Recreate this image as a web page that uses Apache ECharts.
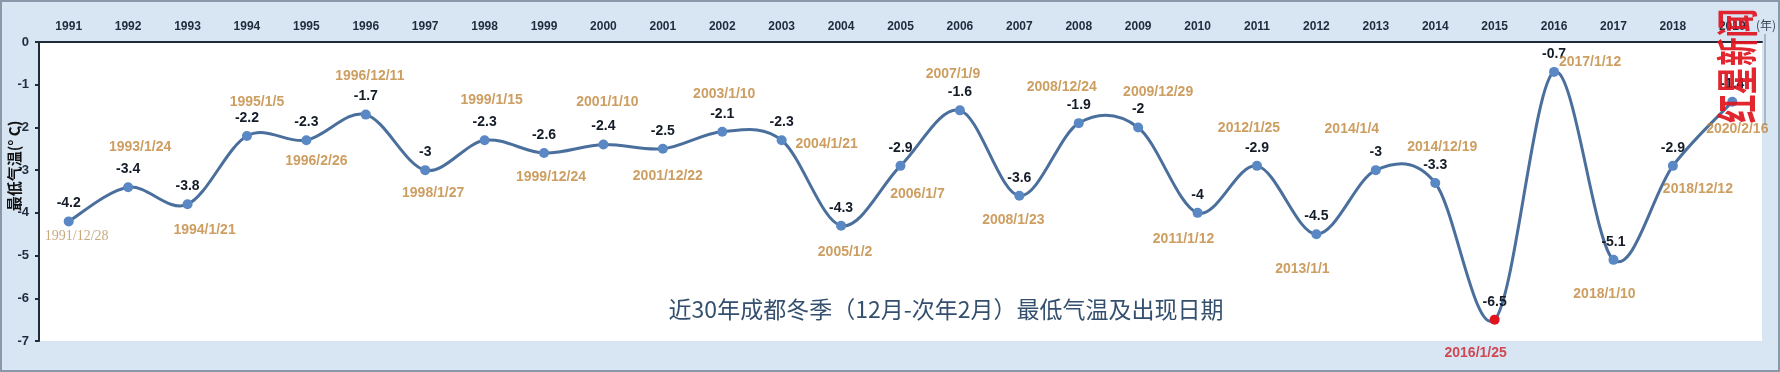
<!DOCTYPE html>
<html>
<head>
<meta charset="utf-8">
<script src="https://cdn.jsdelivr.net/npm/echarts@6/dist/echarts.min.js"></script>
<style>
html,body{margin:0;padding:0;background:#d8e6f3;}
#chart{width:1780px;height:372px;}
</style>
</head>
<body>
<div id="chart"></div>
<script>
// ---- data ----
const years = ['1991','1992','1993','1994','1995','1996','1997','1998','1999','2000','2001','2002','2003','2004','2005','2006','2007','2008','2009','2010','2011','2012','2013','2014','2015','2016','2017','2018','2019'];
const minTemps = [-4.2,-3.4,-3.8,-2.2,-2.3,-1.7,-3,-2.3,-2.6,-2.4,-2.5,-2.1,-2.3,-4.3,-2.9,-1.6,-3.6,-1.9,-2,-4,-2.9,-4.5,-3,-3.3,-6.5,-0.7,-5.1,-2.9,-1.4];
const minDates = ['1991/12/28','1993/1/24','1994/1/21','1995/1/5','1996/2/26','1996/12/11','1998/1/27','1999/1/15','1999/12/24','2001/1/10','2001/12/22','2003/1/10','2004/1/21','2005/1/2','2006/1/7','2007/1/9','2008/1/23','2008/12/24','2009/12/29','2011/1/12','2012/1/25','2013/1/1','2014/1/4','2014/12/19','2016/1/25','2017/1/12','2018/1/10','2018/12/12','2020/2/16'];
const yTicks = [0,-1,-2,-3,-4,-5,-6,-7];
const titleText = '近30年成都冬季（12月-次年2月）最低气温及出现日期';
const yName = '最低气温(° C)';
const xName = '(年)';

// ---- label layout (pixel offsets of date labels from their point) ----
const dateOffsets = [[8,15],[12,-40],[17,26],[10,-34],[10,21],[4,-38],[8,23],[7,-40],[7,24],[4,-42],[5,27],[2,-38],[45,4],[4,26],[17,28],[-7,-36],[-6,24],[-17,-36],[20,-35],[-14,26],[-8,-38],[-14,35],[-24,-41],[7,-36],[-19,33],[36,-10],[-9,34],[25,23],[5,27]];

const n = minTemps.length;
const minIdx = minTemps.indexOf(Math.min.apply(null, minTemps));

const chart = echarts.init(document.getElementById('chart'));

const lineData = minTemps.map((v, i) => i === minIdx
  ? {value: v, itemStyle: {color: '#e0141e'}}
  : v);

const dateData = minTemps.map((v, i) => {
  const item = {value: v, label: {}};
  if (i === 0) {
    item.label.fontFamily = 'Liberation Serif';
    item.label.fontWeight = 'normal';
    item.label.fontSize = 14;
    item.label.color = '#b8945e';
  }
  if (i === minIdx) item.label.color = '#cc1f2a';
  return item;
});

// Excel-style smoothed line (Catmull-Rom through the data points, mapped by the axes)
function renderSmooth(params, api) {
  const i = params.dataIndex;
  if (i >= n - 1) return null;
  const P = k => {
    const j = Math.max(0, Math.min(n - 1, k));
    return api.coord([years[j], minTemps[j]]);
  };
  const p0 = P(i - 1), p1 = P(i), p2 = P(i + 1), p3 = P(i + 2);
  return {
    type: 'bezierCurve',
    shape: {
      x1: p1[0], y1: p1[1],
      cpx1: p1[0] + (p2[0] - p0[0]) / 6, cpy1: p1[1] + (p2[1] - p0[1]) / 6,
      cpx2: p2[0] - (p3[0] - p1[0]) / 6, cpy2: p2[1] - (p3[1] - p1[1]) / 6,
      x2: p2[0], y2: p2[1]
    },
    style: {stroke: '#4a6f9c', lineWidth: 3, fill: 'none', lineCap: 'round'},
    silent: true
  };
}

chart.setOption({
  backgroundColor: '#d8e6f3',
  animation: false,
  grid: {left: 39, right: 18, top: 42, bottom: 31, show: true, backgroundColor: '#ffffff', borderWidth: 0},
  xAxis: {
    type: 'category',
    data: years,
    position: 'top',
    boundaryGap: true,
    axisLine: {lineStyle: {color: '#1e2c3c', width: 2}},
    axisTick: {inside: true, length: 4, lineStyle: {color: '#1e2c3c', width: 2}},
    axisLabel: {margin: 9, color: '#1e2c3c', fontFamily: 'Liberation Sans', fontWeight: 'bold', fontSize: 12},
    splitLine: {show: false}
  },
  yAxis: {
    type: 'value',
    min: -7, max: 0, interval: 1,
    axisLine: {show: true, lineStyle: {color: '#1e2c3c', width: 2}},
    axisTick: {show: true, length: 4, lineStyle: {color: '#1e2c3c', width: 2}},
    axisLabel: {margin: 10, color: '#1e2c3c', fontFamily: 'Liberation Sans', fontWeight: 'bold', fontSize: 13,
      formatter: v => yTicks.indexOf(v) >= 0 ? String(v) : ''},
    splitLine: {show: false}
  },
  series: [
    {
      type: 'custom',
      coordinateSystem: 'cartesian2d',
      data: minTemps.map((v, i) => [years[i], v]),
      renderItem: renderSmooth,
      z: 2
    },
    {
      type: 'line',
      data: lineData,
      symbol: 'circle',
      symbolSize: 10,
      lineStyle: {width: 0, opacity: 0},
      itemStyle: {color: '#5a88c4'},
      label: {
        show: true, position: 'inside', offset: [0, -18],
        color: '#141c28', fontFamily: 'Liberation Sans', fontWeight: 'bold', fontSize: 14,
        formatter: p => String(p.value)
      },
      z: 3
    },
    {
      type: 'scatter',
      data: dateData,
      symbolSize: 2,
      itemStyle: {color: 'rgba(0,0,0,0)'},
      label: {
        show: true, position: 'inside',
        color: '#c0863a', fontFamily: 'Liberation Sans', fontWeight: 'bold', fontSize: 14,
        formatter: p => minDates[p.dataIndex]
      },
      labelLayout: p => ({dx: dateOffsets[p.dataIndex][0], dy: dateOffsets[p.dataIndex][1], hideOverlap: false}),
      silent: true,
      z: 4
    }
  ],
  graphic: [
    {type: 'text', position: [946, 309], style: {text: titleText, textAlign: 'center', textVerticalAlign: 'middle', fontFamily: 'Noto Sans CJK SC', fontSize: 23, fill: '#34506e'}, z: 10},
    {type: 'text', position: [14, 166], rotation: Math.PI / 2, style: {text: yName, textAlign: 'center', textVerticalAlign: 'middle', fontFamily: 'Noto Sans CJK SC', fontWeight: 'bold', fontSize: 15, fill: '#111111'}, z: 10},
    {type: 'text', position: [1766, 25], style: {text: xName, textAlign: 'center', textVerticalAlign: 'middle', fontFamily: 'Noto Sans CJK SC', fontSize: 12, fill: '#3a4656'}, z: 10},
    {type: 'line', shape: {x1: 1765, y1: 34, x2: 1765, y2: 125}, style: {stroke: '#7a8696', lineWidth: 1}, z: 10},
    {type: 'text', position: [1737, 66], rotation: Math.PI / 2, scaleX: 0.68, style: {text: '红星新闻', textAlign: 'center', textVerticalAlign: 'middle', fontFamily: 'Noto Sans CJK SC', fontWeight: 'bold', fontSize: 42, fill: 'rgba(224,20,30,0.92)'}, z: 20},
    {type: 'rect', shape: {x: 1, y: 1, width: 1778, height: 370}, style: {fill: 'none', stroke: '#8a98a9', lineWidth: 2}, z: 30, silent: true}
  ]
});
</script>
</body>
</html>
